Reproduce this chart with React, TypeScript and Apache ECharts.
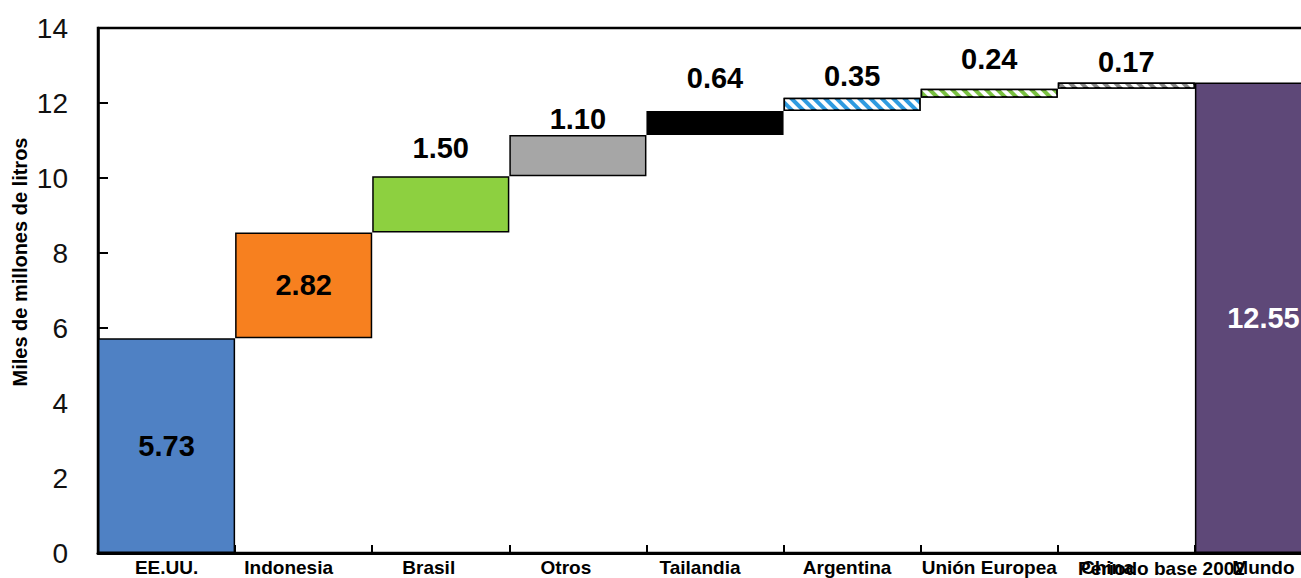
import React, { useEffect, useRef } from "react";
import * as echarts from "echarts";

// ---- data ----
const categories = [
  "EE.UU.",
  "Indonesia",
  "Brasil",
  "Otros",
  "Tailandia",
  "Argentina",
  "Unión Europea",
  "China",
  "Mundo",
];
const increments = [5.73, 2.82, 1.5, 1.1, 0.64, 0.35, 0.24, 0.17, 12.55];
const isTotal = [false, false, false, false, false, false, false, false, true];
const yTickMin = 0;
const yTickMax = 14;
const yTickStep = 2;
const yAxisTitle = "Miles de millones de litros";
const extraAxisText = "Periodo base 2002";

// ---- styles ----
const barColors = ["#4f81c4", "#f7801f", "#8dd040", "#a6a6a6", "#000000", "#2f9be0", "#7ac142", "#8a8a8a", "#5e4878"];
const hatched = [false, false, false, false, false, true, true, true, false];
const labelInside = [true, true, false, false, false, false, false, false, true];
const labelGap = [0, 0, 14, 1, 18, 7, 15, 6, 0];
const labelColor = ["#000", "#000", "#000", "#000", "#000", "#000", "#000", "#000", "#fff"];
const labelShiftX = [0, -15, -12, -12, -15, -5, 0, -19, 0];

export default function App() {
  const ref = useRef<HTMLDivElement>(null);

  useEffect(() => {
    document.body.style.margin = "0";
    if (!ref.current) return;
    const chart = echarts.init(ref.current, undefined, { renderer: "svg" });

    const bases: number[] = [];
    let acc = 0;
    increments.forEach((v, i) => {
      if (isTotal[i]) {
        bases.push(0);
      } else {
        bases.push(acc);
        acc += v;
      }
    });

    const font = "'Liberation Sans', Arial, sans-serif";

    const valueData = increments.map((v, i) => ({
      value: v,
      itemStyle: {
        color: barColors[i],
        borderColor: "#000",
        borderWidth: 1.5,
        decal: hatched[i]
          ? {
              symbol: "rect",
              symbolSize: 1,
              dashArrayX: [1, 0],
              dashArrayY: [4, 4],
              rotation: Math.PI / 4,
              color: "#ffffff",
            }
          : "none",
      },
      label: {
        show: true,
        position: labelInside[i] ? "inside" : "top",
        distance: labelGap[i],
        color: labelColor[i],
        fontSize: 29,
        fontWeight: "bold",
        fontFamily: font,
        formatter: () => v.toFixed(2),
      },
    }));

    chart.setOption({
      animation: false,
      backgroundColor: "#fff",
      grid: {
        left: 98,
        top: 28,
        width: 1234,
        height: 525,
        show: true,
        borderColor: "#000",
        borderWidth: 2.5,
        backgroundColor: "transparent",
      },
      xAxis: {
        type: "category",
        data: categories.map((c, i) => ({
          value: c,
          textStyle: {
            padding: labelShiftX[i] < 0 ? [0, -2 * labelShiftX[i], 0, 0] : [0, 0, 0, 2 * labelShiftX[i]],
          },
        })),
        axisLine: { show: true, lineStyle: { color: "#000", width: 3 } },
        axisTick: { show: true, inside: true, length: 8, lineStyle: { color: "#000", width: 2 } },
        axisLabel: {
          color: "#000",
          fontSize: 19,
          fontWeight: "bold",
          fontFamily: font,
          margin: 5,
          interval: 0,
        },
        splitLine: { show: false },
      },
      yAxis: {
        type: "value",
        min: yTickMin,
        max: yTickMax,
        interval: yTickStep,
        axisLine: { show: true, lineStyle: { color: "#000", width: 2.5 } },
        axisTick: { show: true, inside: true, length: 10, lineStyle: { color: "#000", width: 2 } },
        axisLabel: {
          color: "#111",
          fontSize: 28,
          fontFamily: font,
          margin: 30,
        },
        splitLine: { show: false },
      },
      graphic: [
        {
          type: "text",
          x: 20,
          y: 262,
          rotation: Math.PI / 2,
          style: {
            text: yAxisTitle,
            fill: "#000",
            font: `bold 20px ${font}`,
            textAlign: "center",
            textVerticalAlign: "middle",
          },
        },
        {
          type: "text",
          x: 1078,
          y: 568,
          style: {
            text: extraAxisText,
            fill: "#000",
            font: `bold 19px ${font}`,
            textAlign: "left",
            textVerticalAlign: "middle",
          },
        },
      ],
      series: [
        {
          type: "bar",
          stack: "w",
          data: bases,
          itemStyle: { color: "transparent", borderColor: "transparent" },
          barCategoryGap: 0,
          silent: true,
        },
        {
          type: "bar",
          stack: "w",
          data: valueData,
          barCategoryGap: 0,
        },
      ],
    });

    return () => chart.dispose();
  }, []);

  return (
    <div style={{ width: 1301, height: 578, overflow: "hidden", position: "relative" }}>
      <div ref={ref} style={{ width: 1345, height: 578 }} />
    </div>
  );
}
